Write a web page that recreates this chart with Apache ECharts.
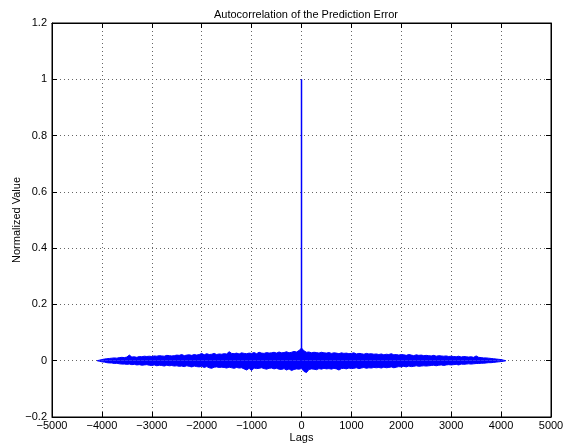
<!DOCTYPE html>
<html><head><meta charset="utf-8">
<script src="https://cdn.jsdelivr.net/npm/echarts@6/dist/echarts.min.js"></script>
<style>html,body{margin:0;padding:0;background:#fff}#c{width:563px;height:447px}</style>
</head><body><div id="c"></div>
<script>
// Chart text
const titleText = "Autocorrelation of the Prediction Error";
const xLabel = "Lags";
const yLabel = "Normalized Value";
// Axis ticks
const xTicks = [-5000,-4000,-3000,-2000,-1000,0,1000,2000,3000,4000,5000];
const yTicks = [-0.2,0,0.2,0.4,0.6,0.8,1,1.2];
// Envelope of the noise band, one sample per 50 lags from -4050 to 4050
const bandStart = -4050, bandStep = 50;
const bandUpper = [
 0.002,0.004,0.006,0.007,0.008,0.009,0.010,0.009,0.011,0.012,
 0.011,0.013,0.020,0.013,0.014,0.012,0.015,0.014,0.016,0.015,
 0.016,0.015,0.017,0.016,0.018,0.017,0.016,0.019,0.018,0.017,
 0.018,0.020,0.019,0.022,0.018,0.020,0.021,0.019,0.022,0.020,
 0.022,0.026,0.021,0.025,0.022,0.023,0.026,0.022,0.024,0.023,
 0.025,0.024,0.032,0.026,0.025,0.027,0.024,0.028,0.026,0.025,
 0.027,0.026,0.029,0.025,0.030,0.027,0.026,0.029,0.027,0.028,
 0.030,0.027,0.031,0.028,0.029,0.032,0.028,0.030,0.033,0.031,
 0.036,0.045,
 0.035,0.030,0.031,0.028,0.030,0.029,0.027,0.030,0.028,0.027,
 0.029,0.026,0.028,0.027,0.025,0.028,0.026,0.027,0.025,0.026,
 0.028,0.024,0.026,0.025,0.023,0.026,0.024,0.025,0.023,0.024,
 0.022,0.024,0.021,0.023,0.022,0.025,0.021,0.022,0.020,0.022,
 0.021,0.019,0.022,0.020,0.018,0.021,0.019,0.020,0.018,0.019,
 0.018,0.017,0.019,0.016,0.018,0.017,0.016,0.017,0.015,0.016,
 0.015,0.014,0.016,0.013,0.015,0.014,0.013,0.014,0.012,0.017,
 0.012,0.011,0.010,0.010,0.009,0.008,0.007,0.006,0.005,0.004,0.002
];
const bandLower = [
 -0.002,-0.004,-0.005,-0.007,-0.008,-0.008,-0.010,-0.009,-0.011,-0.012,
 -0.012,-0.013,-0.012,-0.014,-0.013,-0.015,-0.014,-0.016,-0.015,-0.014,
 -0.016,-0.017,-0.015,-0.018,-0.016,-0.017,-0.019,-0.016,-0.018,-0.017,
 -0.019,-0.018,-0.020,-0.019,-0.021,-0.018,-0.020,-0.022,-0.019,-0.021,
 -0.022,-0.020,-0.024,-0.021,-0.025,-0.027,-0.023,-0.022,-0.024,-0.023,
 -0.024,-0.026,-0.023,-0.025,-0.027,-0.024,-0.026,-0.025,-0.029,-0.033,
 -0.027,-0.035,-0.026,-0.028,-0.027,-0.025,-0.028,-0.030,-0.027,-0.026,
 -0.029,-0.027,-0.030,-0.031,-0.028,-0.033,-0.029,-0.035,-0.031,-0.029,
 -0.030,-0.028,
 -0.038,-0.042,-0.031,-0.029,-0.030,-0.032,-0.028,-0.030,-0.027,-0.029,
 -0.028,-0.030,-0.027,-0.029,-0.033,-0.028,-0.027,-0.029,-0.026,-0.028,
 -0.027,-0.025,-0.028,-0.026,-0.024,-0.027,-0.025,-0.026,-0.024,-0.025,
 -0.024,-0.026,-0.023,-0.025,-0.024,-0.022,-0.025,-0.023,-0.021,-0.022,
 -0.020,-0.022,-0.019,-0.021,-0.020,-0.018,-0.020,-0.019,-0.018,-0.019,
 -0.018,-0.017,-0.016,-0.018,-0.016,-0.015,-0.017,-0.015,-0.014,-0.015,
 -0.014,-0.013,-0.015,-0.012,-0.013,-0.012,-0.011,-0.012,-0.011,-0.010,
 -0.010,-0.009,-0.009,-0.008,-0.007,-0.007,-0.006,-0.005,-0.004,-0.003,-0.002
];
// Ends of the lag range and the zero-lag peak
const endLags = [-4095, 4095];
const endValues = [0, 0];
const peakLags = [0, 0];
const peakValues = [0, 1];

function bandData(vals){
  const d = [[endLags[0], endValues[0]]];
  vals.forEach((v,i)=>d.push([bandStart + bandStep*i, v]));
  d.push([endLags[1], endValues[1]]);
  return d;
}

const minus = s => String(s).replace('-', '\u2212');
const font = "'Liberation Sans', Arial, Helvetica, sans-serif";
const dotted = {show:true, lineStyle:{color:'#666', width:1, type:[1,3]}};
const blue = '#0000ff';
const chart = echarts.init(document.getElementById('c'), null, {renderer:'canvas'});
chart.setOption({
  animation:false,
  backgroundColor:'#fff',
  title:{text:titleText, left:301, top:4, textAlign:'center',
    textStyle:{fontFamily:font, fontSize:11, fontWeight:'normal', color:'#000'}},
  grid:{left:52, right:12, top:23, bottom:30, outerBoundsMode:'none', containLabel:false,
    show:true, borderColor:'#000', borderWidth:1, backgroundColor:'transparent'},
  xAxis:[{type:'value', min:xTicks[0], max:xTicks[xTicks.length-1], interval:1000,
    name:xLabel, nameLocation:'middle', nameGap:15, nameMoveOverlap:false,
    nameTextStyle:{fontFamily:font, fontSize:11, color:'#000'},
    axisLine:{show:true, onZero:false, lineStyle:{color:'#000'}},
    axisTick:{show:true, inside:true, length:5, lineStyle:{color:'#000'}},
    axisLabel:{fontFamily:font, fontSize:11, color:'#000', margin:3, formatter:v=>minus(v)},
    splitLine:dotted},
   {type:'value', position:'top', min:xTicks[0], max:xTicks[xTicks.length-1], interval:1000,
    axisLine:{show:true, onZero:false, lineStyle:{color:'#000'}},
    axisTick:{show:true, inside:true, length:5, lineStyle:{color:'#000'}},
    axisLabel:{show:false}, splitLine:{show:false}}],
  yAxis:[{type:'value', min:yTicks[0], max:yTicks[yTicks.length-1], interval:0.2,
    name:yLabel, nameLocation:'middle', nameGap:30, nameRotate:90, nameMoveOverlap:false,
    nameTextStyle:{fontFamily:font, fontSize:11, color:'#000'},
    axisLine:{show:true, onZero:false, lineStyle:{color:'#000'}},
    axisTick:{show:true, inside:true, length:5, lineStyle:{color:'#000'}},
    axisLabel:{fontFamily:font, fontSize:11, color:'#000', margin:5,
      formatter:v=>minus(parseFloat(v.toFixed(1)))},
    splitLine:dotted},
   {type:'value', position:'right', min:yTicks[0], max:yTicks[yTicks.length-1], interval:0.2,
    axisLine:{show:true, onZero:false, lineStyle:{color:'#000'}},
    axisTick:{show:true, inside:true, length:5, lineStyle:{color:'#000'}},
    axisLabel:{show:false}, splitLine:{show:false}}],
  series:[
    {type:'line', data:bandData(bandUpper), showSymbol:false, symbol:'none', silent:true,
      lineStyle:{color:blue, width:1}, areaStyle:{color:blue, opacity:1, origin:0}, itemStyle:{color:blue}},
    {type:'line', data:bandData(bandLower), showSymbol:false, symbol:'none', silent:true,
      lineStyle:{color:blue, width:1}, areaStyle:{color:blue, opacity:1, origin:0}, itemStyle:{color:blue}},
    {type:'line', data:peakLags.map((l,i)=>[l, peakValues[i]]), showSymbol:false, symbol:'none', silent:true,
      lineStyle:{color:blue, width:1.5}, itemStyle:{color:blue}}
  ]
});
</script></body></html>
